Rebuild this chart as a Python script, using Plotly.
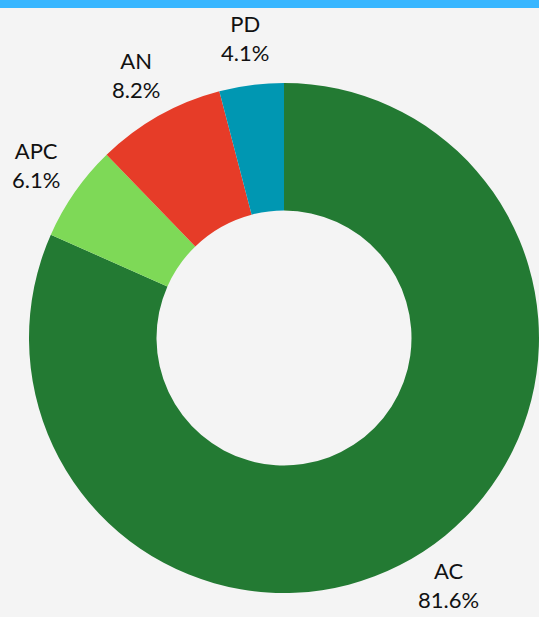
import math
import plotly.graph_objects as go

labels = ["AC", "APC", "AN", "PD"]
values = [40, 3, 4, 2]
colors = ["#237a33", "#7ed957", "#e63c28", "#0097b2"]

W, H = 539, 617
ML, MR, MT, MB = 29, 0, 82, 23
FONT_SIZE = 22

fig = go.Figure(go.Pie(
    labels=labels,
    values=values,
    hole=0.5,
    sort=False,
    direction="clockwise",
    rotation=0,
    marker=dict(colors=colors, line=dict(width=0)),
    textinfo="none",
    showlegend=False,
    hoverinfo="label+percent",
))

# outside labels placed along each slice's mid-angle
pw, ph = W - ML - MR, H - MT - MB
radius = min(pw, ph) / 2
cx, cy = ML + pw / 2, MT + ph / 2
label_r = radius * 1.185
half_box = FONT_SIZE * 1.3 + 3  # keep two-line label inside the page
total = sum(values)
annotations = []
cum = 0
for lab, v in zip(labels, values):
    mid = (cum + v / 2) / total * 2 * math.pi
    cum += v
    px = cx + label_r * math.sin(mid)
    py = cy - label_r * math.cos(mid)
    py = min(py, H - half_box)
    annotations.append(dict(
        x=(px - ML) / pw, y=(H - MB - py) / ph,
        xref="paper", yref="paper",
        xanchor="center", yanchor="middle",
        text=f"{lab}<br>{v / total * 100:.1f}%",
        showarrow=False,
        font=dict(family="Lato", size=FONT_SIZE, color="#111111"),
    ))

fig.update_layout(
    width=W,
    height=H,
    margin=dict(l=ML, r=MR, t=MT, b=MB),
    paper_bgcolor="#f4f4f4",
    plot_bgcolor="#f4f4f4",
    annotations=annotations,
    shapes=[dict(
        type="rect", xref="paper", yref="paper",
        x0=-0.2, x1=1.2,
        y0=(H - MB - 8) / ph, y1=(H - MB + 10) / ph,
        fillcolor="#38b6ff", line=dict(width=0), layer="above",
    )],
)

fig.write_html("out.html", config={"displayModeBar": False},
               post_script="document.body.style.margin='0';")
